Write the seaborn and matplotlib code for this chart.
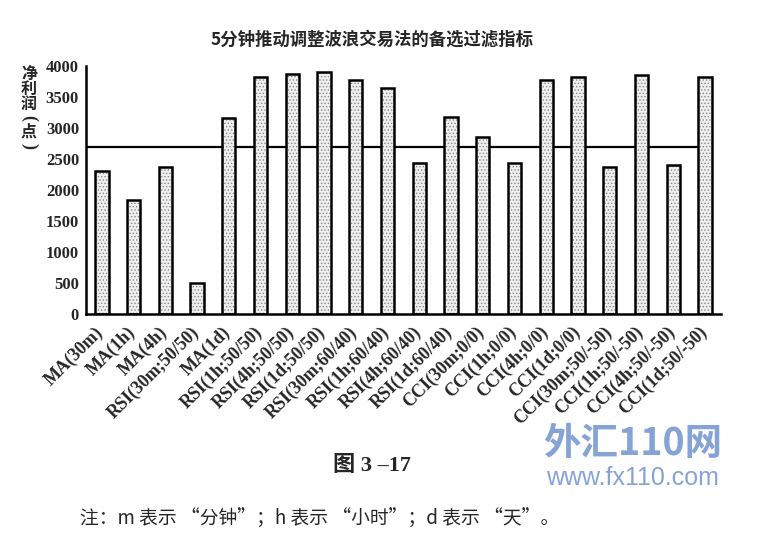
import matplotlib
matplotlib.use('Agg')
import matplotlib.pyplot as plt
import matplotlib.transforms as mtransforms
import seaborn as sns
import pandas as pd
import numpy as np

# data
labels = ['MA(30m)', 'MA(1h)', 'MA(4h)', 'RSI(30m;50/50)', 'MA(1d)',
          'RSI(1h;50/50)', 'RSI(4h;50/50)', 'RSI(1d;50/50)', 'RSI(30m;60/40)',
          'RSI(1h;60/40)', 'RSI(4h;60/40)', 'RSI(1d;60/40)', 'CCI(30m;0/0)',
          'CCI(1h;0/0)', 'CCI(4h;0/0)', 'CCI(1d;0/0)', 'CCI(30m;50/-50)',
          'CCI(1h;50/-50)', 'CCI(4h;50/-50)', 'CCI(1d;50/-50)']
profit = [2300, 1840, 2370, 500, 3160, 3820, 3870, 3900, 3780, 3640,
          2440, 3180, 2860, 2440, 3780, 3820, 2370, 3860, 2400, 3820]
baseline = 2700
yticks = [0, 500, 1000, 1500, 2000, 2500, 3000, 3500, 4000]

title = '5分钟推动调整波浪交易法的备选过滤指标'
ylabel_chars = ['净', '利', '润', '(', '点', ')']
fig_label = '图 3 –17'
note = '注：m 表示 “分钟”；h 表示 “小时”；d 表示 “天”。'

sns.set_style('white')
plt.rcParams['font.family'] = ['Liberation Serif', 'Noto Sans CJK SC', 'DejaVu Sans']
plt.rcParams['hatch.linewidth'] = 0.6

df = pd.DataFrame({'label': labels, 'profit': profit})

fig = plt.figure(figsize=(7.78, 5.45), dpi=100)
ax = fig.add_axes([0.1105, 0.424, 0.816, 0.455])

# reference line sits behind the bars
ax.plot([-0.5, len(labels) - 1], [baseline, baseline], color='black', lw=1.6, zorder=1)

# stippled fill, then black outline on top
sns.barplot(data=df, x='label', y='profit', ax=ax, color='#efefef', edgecolor='#8a8a8a',
            linewidth=0, width=0.42, hatch='.....', zorder=2)
sns.barplot(data=df, x='label', y='profit', ax=ax, fill=False, edgecolor='black',
            linewidth=1.8, width=0.42, zorder=3)

ax.set_xlim(-0.5, len(labels) - 0.5)
ax.set_ylim(0, 4000)
ax.set_yticks(yticks)
ax.set_xlabel('')
ax.set_ylabel('')

sns.despine(ax=ax)
for s in ['left', 'bottom']:
    ax.spines[s].set_linewidth(1.8)
    ax.spines[s].set_color('black')

ax.tick_params(axis='y', direction='in', length=3, width=1.5, pad=5, labelsize=12)
for t in ax.get_yticklabels():
    t.set_fontweight('bold')

ax.set_xticks(range(len(labels)))
ax.set_xticks(np.arange(0.5, len(labels), 1), minor=True)
ax.tick_params(axis='x', which='major', length=0, pad=7)
ax.tick_params(axis='x', which='minor', direction='in', length=5, width=1.5)
ax.set_xticklabels(labels, rotation=45, ha='right', rotation_mode='anchor',
                   fontsize=13, fontweight='bold')
shift = mtransforms.ScaledTranslation(-7 / 100, 0, fig.dpi_scale_trans)
for t in ax.get_xticklabels():
    t.set_transform(t.get_transform() + shift)

fig.text(0.478, 0.927, title, ha='center', va='center', fontsize=12.5,
         fontweight='bold', family=['Noto Sans CJK SC'])

# stacked vertical axis title, brackets turned on their side
ylab_y = [74, 89, 104, 118, 132, 146]
for ch, yp in zip(ylabel_chars, ylab_y):
    if ch in '()':
        fig.text(29 / 778, 1 - yp / 545, ch, ha='center', va='center', fontsize=13,
                 fontweight='bold', rotation=-90, rotation_mode='anchor')
    else:
        fig.text(29 / 778, 1 - yp / 545, ch, ha='center', va='center', fontsize=11.5,
                 fontweight='bold', family=['Noto Sans CJK SC'])

fig.text(0.478, 0.145, fig_label, ha='center', va='center', fontsize=16,
         fontweight='bold')
fig.text(0.103, 0.048, note, ha='left', va='center', fontsize=13.5,
         family=['Noto Sans CJK SC'])

# site watermark in the lower right
fig.text(0.813, 0.187, '外汇110网', ha='center', va='center', fontsize=27,
         fontweight='bold', fontstyle='italic', color='#86a3d6',
         family=['Noto Sans CJK SC'])
fig.text(0.813, 0.123, 'www.fx110.com', ha='center', va='center', fontsize=18,
         color='#86a3d6', family=['Liberation Sans'])

fig.savefig('out.png', dpi=100)
plt.close(fig)
